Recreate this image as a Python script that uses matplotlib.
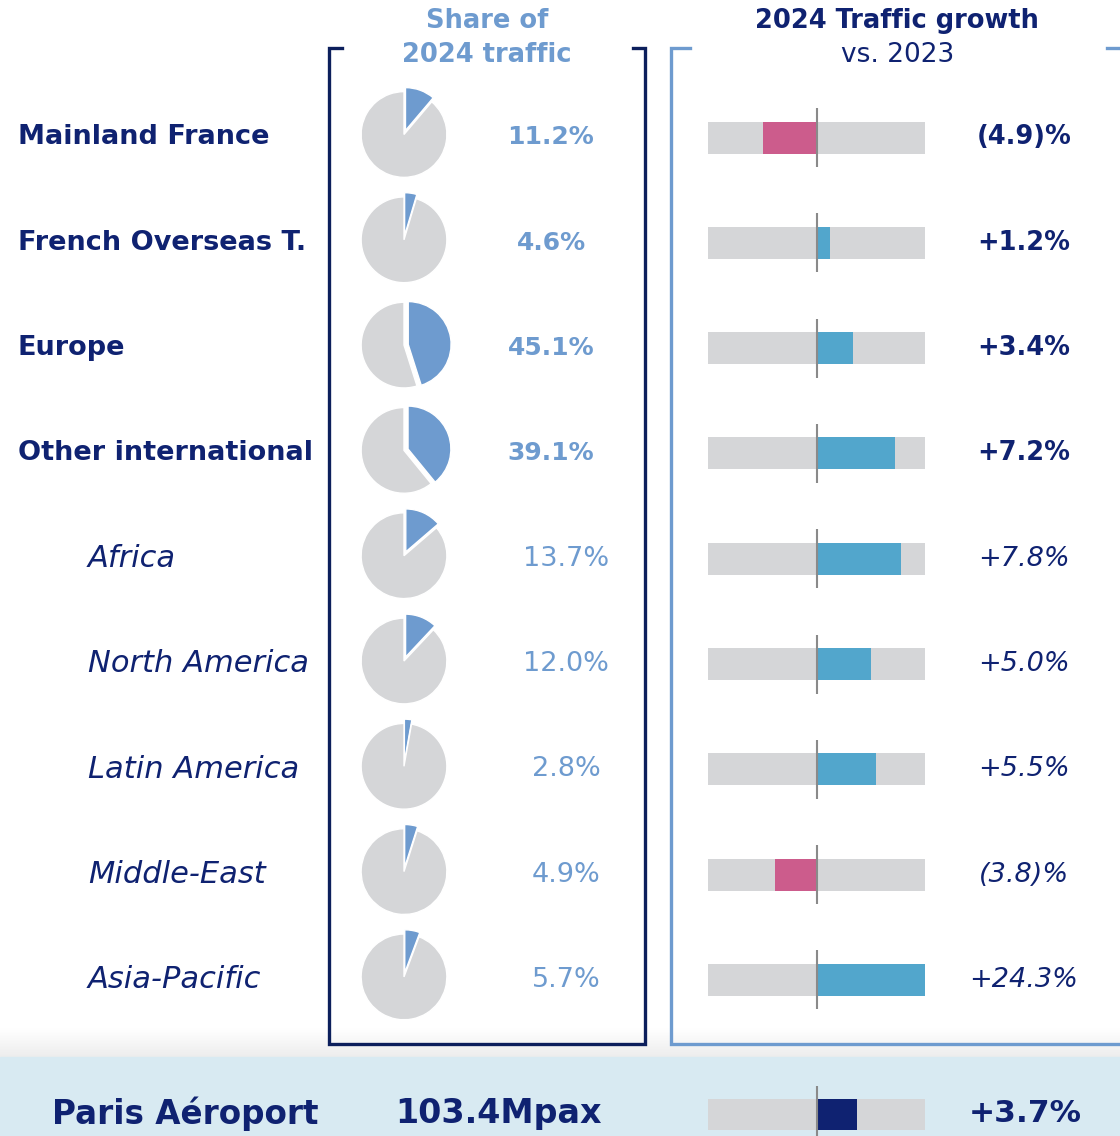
import numpy as np
import matplotlib
matplotlib.use('Agg')
import matplotlib.pyplot as plt

regions = ['Mainland France', 'French Overseas T.', 'Europe', 'Other international',
           'Africa', 'North America', 'Latin America', 'Middle-East', 'Asia-Pacific']
share = [11.2, 4.6, 45.1, 39.1, 13.7, 12.0, 2.8, 4.9, 5.7]
growth = [-4.9, 1.2, 3.4, 7.2, 7.8, 5.0, 5.5, -3.8, 24.3]
is_main = [True, True, True, True, False, False, False, False, False]

total_name = 'Paris Aéroport'
total_mpax = 103.4
total_growth = 3.7

NAVY = '#0f2271'
BOX_NAVY = '#0c1f5c'
LBLUE = '#6e9bcf'
GRAY = '#d5d6d8'
PINK = '#cc5c8c'
BBLUE = '#52a6cc'
BAND = '#d8eaf2'

plt.rcParams['font.family'] = ['DejaVu Sans']

W, H = 1120, 1136
fig = plt.figure(figsize=(W / 100, H / 100), dpi=100)

# background axes in pixel coordinates
bg = fig.add_axes([0, 0, 1, 1])
bg.set_xlim(0, W)
bg.set_ylim(H, 0)
bg.axis('off')

grad = np.linspace(1.0, 0.93, 30).reshape(-1, 1)
bg.imshow(np.dstack([grad, grad, grad]), extent=[0, W, 1057, 1028], aspect='auto', zorder=0)
bg.add_patch(plt.Rectangle((0, 1057), W, H - 1057, color=BAND, zorder=0))

# brackets
bg.plot([342, 329, 329, 645, 645, 633], [48, 48, 1044, 1044, 48, 48], color=BOX_NAVY, lw=2.4,
        solid_joinstyle='miter', zorder=2)
bg.plot([690, 671, 671, 1125], [48, 48, 1044, 1044], color=LBLUE, lw=2.4,
        solid_joinstyle='miter', zorder=2)
bg.plot([1107, 1125], [48, 48], color=LBLUE, lw=2.4, zorder=2)

# headers
bg.text(487, 21, 'Share of', color=LBLUE, fontsize=18.5, fontweight='bold', ha='center', va='center')
bg.text(487, 55, '2024 traffic', color=LBLUE, fontsize=18.5, fontweight='bold', ha='center', va='center')
bg.text(897, 21, '2024 Traffic growth', color=NAVY, fontsize=18.5, fontweight='bold', ha='center', va='center')
bg.text(898, 55, 'vs. 2023', color=NAVY, fontsize=19, ha='center', va='center')

row_y = 137.5 + 105.3 * np.arange(len(regions))
total_y = 1114.5


def fmt(g):
    return f'({abs(g):.1f})%' if g < 0 else f'+{g:.1f}%'


for i, name in enumerate(regions):
    y = row_y[i]
    if is_main[i]:
        bg.text(18, y, name, color=NAVY, fontsize=19.5, fontweight='bold', ha='left', va='center')
        bg.text(551, y, f'{share[i]:.1f}%', color=LBLUE, fontsize=18, fontweight='bold',
                ha='center', va='center')
        bg.text(1024, y, fmt(growth[i]), color=NAVY, fontsize=18.5, fontweight='bold',
                ha='center', va='center')
    else:
        bg.text(88, y, name, color=NAVY, fontsize=22, style='italic', ha='left', va='center')
        bg.text(566, y, f'{share[i]:.1f}%', color=LBLUE, fontsize=19.5, ha='center', va='center')
        bg.text(1024, y, fmt(growth[i]), color=NAVY, fontsize=19.5, style='italic',
                ha='center', va='center')

    # pie
    cx, cy, s = 404, y - 3, 120
    pa = fig.add_axes([(cx - s / 2) / W, 1 - (cy + s / 2) / H, s / W, s / H])
    pa.pie([share[i], 100 - share[i]], colors=[LBLUE, GRAY], startangle=90, counterclock=False,
           explode=(0.1, 0), wedgeprops=dict(edgecolor='white', linewidth=1))
    pa.set_xlim(-1.4, 1.4)
    pa.set_ylim(-1.4, 1.4)
    pa.set_aspect('equal')
    pa.axis('off')

# total row
bg.text(52, total_y - 1, total_name, color=NAVY, fontsize=23.5, fontweight='bold', ha='left', va='center')
bg.text(395, total_y - 1, f'{total_mpax:.1f}Mpax', color=NAVY, fontsize=24, fontweight='bold',
        ha='left', va='center')
bg.text(1025, total_y - 1, fmt(total_growth), color=NAVY, fontsize=22.5, fontweight='bold',
        ha='center', va='center')

# growth bars, x axis in percent, -10..10 visible
ba = fig.add_axes([708 / W, 0, 217 / W, 1])
ba.set_xlim(-10, 10)
ba.set_ylim(H, 0)
ba.axis('off')
ba.patch.set_alpha(0)

g = np.array(growth)
ba.barh(row_y, 20, left=-10, height=32, color=GRAY, zorder=1)
ba.barh(row_y, g, height=32, color=np.where(g < 0, PINK, BBLUE), zorder=2)
ba.vlines(np.zeros(len(row_y)), row_y - 29.5, row_y + 29.5, color='#8a8a8a', lw=1.5, zorder=3)

ba.barh([total_y], 20, left=-10, height=31, color=GRAY, zorder=1)
ba.barh([total_y], [total_growth], height=31, color=NAVY, zorder=2)
ba.vlines(0, 1086, H, color='#8a8a8a', lw=1.5, zorder=3)

fig.savefig('out.png', dpi=100)
